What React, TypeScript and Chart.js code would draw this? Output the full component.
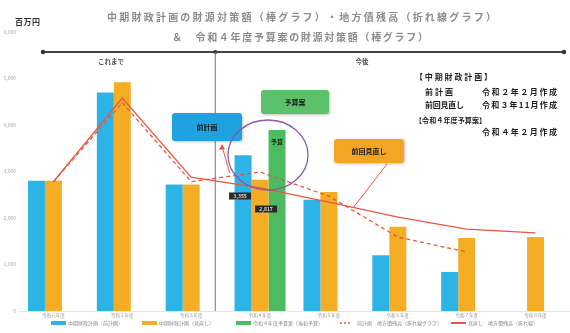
import React, { useEffect, useRef } from "react";
import { Chart, registerables } from "chart.js";
Chart.register(...registerables);

const FONT = '"Noto Sans CJK JP", "Noto Sans", sans-serif';

const categories = ["令和元年度", "令和２年度", "令和３年度", "令和４年度", "令和５年度", "令和６年度", "令和７年度", "令和８年度"];
const prevPlanBars = [2800, 4700, 2720, 3350, 2390, 1200, 840, null];
const reviewBars = [2800, 4920, 2720, 2820, 2560, 1810, 1570, 1590];
const budgetBars = [null, null, null, 3890, null, null, null, null];
const prevPlanLine = [2780, 4480, 2780, 2990, 2470, 1590, 1270, null];
const reviewLine = [2780, 4580, 2880, 2650, 2340, 2020, 1760, 1680];
const yTickValues = [0, 1000, 2000, 3000, 4000, 5000, 6000];
const yTickLabels = ["0", "1,000", "2,000", "3,000", "4,000", "5,000", "6,000"];
const legendLabels = [
  "中期財政計画（前計画）",
  "中期財政計画（見直し）",
  "令和４年度予算案（当初予算）",
  "前計画　地方債残高（折れ線グラフ）",
  "見直し　地方債残高（折れ線）",
];
const titleLine1 = "中期財政計画の財源対策額（棒グラフ）・地方債残高（折れ線グラフ）";
const titleLine2 = "＆　令和４年度予算案の財源対策額（棒グラフ）";
const unitLabel = "百万円";
const periodLabels = ["これまで", "今後"];
const noteLines = ["【中期財政計画】", "前計画", "令和２年２月作成", "前回見直し", "令和３年11月作成", "【令和４年度予算案】", "令和４年２月作成"];
const calloutLabels = ["前計画", "予算案", "前回見直し"];
const valueTags = ["3,355", "2,817"];

const BLUE = "#2db4e6";
const ORANGE = "#f5ad26";
const GREEN = "#4dbb5f";
const RED = "#e9573f";
const PURPLE = "#8a5aa8";

function spread(ctx: CanvasRenderingContext2D, text: string, x0: number, x1: number, y: number) {
  const chars = Array.from(text);
  const widths = chars.map((c) => ctx.measureText(c).width);
  const total = widths.reduce((a, b) => a + b, 0);
  const gap = chars.length > 1 ? (x1 - x0 - total) / (chars.length - 1) : 0;
  let x = x0;
  ctx.textAlign = "left";
  chars.forEach((c, i) => {
    ctx.fillText(c, x, y);
    x += widths[i] + gap;
  });
}

function roundRect(ctx: CanvasRenderingContext2D, x: number, y: number, w: number, h: number, r: number) {
  ctx.beginPath();
  ctx.moveTo(x + r, y);
  ctx.lineTo(x + w - r, y);
  ctx.quadraticCurveTo(x + w, y, x + w, y + r);
  ctx.lineTo(x + w, y + h - r);
  ctx.quadraticCurveTo(x + w, y + h, x + w - r, y + h);
  ctx.lineTo(x + r, y + h);
  ctx.quadraticCurveTo(x, y + h, x, y + h - r);
  ctx.lineTo(x, y + r);
  ctx.quadraticCurveTo(x, y, x + r, y);
  ctx.closePath();
}

const deco = {
  id: "deco",
  afterDraw(chart: any) {
    const ctx: CanvasRenderingContext2D = chart.ctx;
    const xs = chart.scales.x;
    const area = chart.chartArea;
    ctx.save();
    ctx.textBaseline = "middle";

    // titles
    ctx.fillStyle = "#8c8c8c";
    ctx.font = `bold 10px ${FONT}`;
    spread(ctx, titleLine1, 107, 496, 17);
    spread(ctx, titleLine2, 172, 428, 37);

    // unit
    ctx.fillStyle = "#333";
    ctx.font = `bold 8px ${FONT}`;
    spread(ctx, unitLabel, 15, 40, 22);

    // period arrow line
    const divX = xs.getPixelForValue(2) + (xs.getPixelForValue(3) - xs.getPixelForValue(2)) * 0.35;
    ctx.strokeStyle = "#444";
    ctx.lineWidth = 2;
    ctx.beginPath();
    ctx.moveTo(43, 52);
    ctx.lineTo(564, 52);
    ctx.stroke();
    ctx.fillStyle = "#333";
    [43, 564].forEach((px) => {
      ctx.beginPath();
      ctx.arc(px, 52, 2.2, 0, Math.PI * 2);
      ctx.fill();
    });
    ctx.beginPath();
    ctx.arc(divX, 52, 2, 0, Math.PI * 2);
    ctx.fill();

    // divider
    ctx.strokeStyle = "#6f6fb0";
    ctx.lineWidth = 1;
    ctx.beginPath();
    ctx.moveTo(divX, 52);
    ctx.lineTo(divX, area.bottom);
    ctx.stroke();

    ctx.fillStyle = "#555";
    ctx.font = `bold 6.5px ${FONT}`;
    ctx.textAlign = "center";
    ctx.fillText(periodLabels[0], 111, 62);
    ctx.fillText(periodLabels[1], 362, 62);

    // notes
    ctx.fillStyle = "#1e1e1e";
    ctx.font = `bold 8px ${FONT}`;
    spread(ctx, noteLines[0], 415, 492, 77);
    spread(ctx, noteLines[1], 425, 453, 92);
    spread(ctx, noteLines[2], 482, 557, 92);
    spread(ctx, noteLines[3], 425, 464, 105);
    spread(ctx, noteLines[4], 482, 557, 105);
    ctx.font = `bold 7px ${FONT}`;
    spread(ctx, noteLines[5], 415, 486, 120);
    ctx.font = `bold 8px ${FONT}`;
    spread(ctx, noteLines[6], 482, 557, 132);

    // callout connectors
    const dashMeta = chart.getDatasetMeta(3).data;
    const solidMeta = chart.getDatasetMeta(4).data;
    ctx.strokeStyle = RED;
    ctx.lineWidth = 1;
    const tx1 = (dashMeta[2].x + dashMeta[3].x) / 2 + 4;
    const ty1 = (dashMeta[2].y + dashMeta[3].y) / 2 - 4;
    ctx.beginPath();
    ctx.moveTo(222, 146);
    ctx.lineTo(tx1, ty1);
    ctx.stroke();
    ctx.fillStyle = RED;
    ctx.beginPath();
    ctx.moveTo(222, 144);
    ctx.lineTo(219, 150);
    ctx.lineTo(225, 149);
    ctx.closePath();
    ctx.fill();
    const tx2 = (solidMeta[4].x + solidMeta[5].x) / 2 - 10;
    const ty2 = (solidMeta[4].y + solidMeta[5].y) / 2 - 2;
    ctx.beginPath();
    ctx.moveTo(387, 164);
    ctx.lineTo(tx2, ty2);
    ctx.stroke();

    // callout boxes
    const boxes = [
      { x: 172, y: 113, w: 70, h: 28, c: "#1ea3e0", t: calloutLabels[0] },
      { x: 261, y: 90, w: 68, h: 24, c: "#5cc26a", t: calloutLabels[1] },
      { x: 334, y: 139, w: 70, h: 24, c: "#f2a623", t: calloutLabels[2] },
    ];
    boxes.forEach((b) => {
      ctx.save();
      ctx.shadowColor = "rgba(0,0,0,0.25)";
      ctx.shadowBlur = 3;
      ctx.shadowOffsetX = 1;
      ctx.shadowOffsetY = 1;
      ctx.fillStyle = b.c;
      roundRect(ctx, b.x, b.y, b.w, b.h, 3);
      ctx.fill();
      ctx.restore();
      ctx.fillStyle = "#1a1a1a";
      ctx.font = `bold 7px ${FONT}`;
      ctx.textAlign = "center";
      ctx.fillText(b.t, b.x + b.w / 2, b.y + b.h / 2);
    });

    // ellipse
    ctx.strokeStyle = PURPLE;
    ctx.lineWidth = 1.3;
    ctx.beginPath();
    ctx.ellipse(268, 155, 40, 35, 0, 0, Math.PI * 2);
    ctx.stroke();

    // text on green bar
    const gBar = chart.getDatasetMeta(2).data[3];
    ctx.fillStyle = "#1a1a1a";
    ctx.font = `bold 6px ${FONT}`;
    ctx.textAlign = "center";
    ctx.fillText("予算", gBar.x, gBar.y + 12);

    // value tags
    const bBar = chart.getDatasetMeta(0).data[3];
    const oBar = chart.getDatasetMeta(1).data[3];
    [[bBar.x - 3, 196, valueTags[0]], [oBar.x + 6, 209, valueTags[1]]].forEach(([x, y, t]: any) => {
      ctx.fillStyle = "#2a2a2a";
      ctx.fillRect(x - 11, y - 3.5, 22, 7);
      ctx.fillStyle = "#ddd";
      ctx.font = `bold 5px ${FONT}`;
      ctx.fillText(t, x, y);
    });

    // legend
    const ly = 323;
    const items = [
      { x: 51, c: BLUE, kind: "box" },
      { x: 142, c: ORANGE, kind: "box" },
      { x: 236, c: GREEN, kind: "box" },
      { x: 340, c: RED, kind: "dash" },
      { x: 451, c: RED, kind: "line" },
    ];
    ctx.font = `5px ${FONT}`;
    items.forEach((it, i) => {
      if (it.kind === "box") {
        ctx.fillStyle = it.c;
        ctx.fillRect(it.x, ly - 2, 15, 4);
      } else if (it.kind === "dash") {
        ctx.strokeStyle = it.c;
        ctx.lineWidth = 1.5;
        ctx.setLineDash([2, 2]);
        ctx.beginPath();
        ctx.moveTo(it.x, ly);
        ctx.lineTo(it.x + 12, ly);
        ctx.stroke();
        ctx.setLineDash([]);
      } else {
        ctx.strokeStyle = it.c;
        ctx.lineWidth = 2;
        ctx.beginPath();
        ctx.moveTo(it.x, ly);
        ctx.lineTo(it.x + 15, ly);
        ctx.stroke();
      }
      ctx.fillStyle = "#888";
      ctx.textAlign = "left";
      ctx.fillText(legendLabels[i], it.x + 17, ly);
    });

    ctx.restore();
  },
};

export default function App() {
  const ref = useRef<HTMLCanvasElement | null>(null);
  useEffect(() => {
    document.body.style.margin = "0";
    const canvas = ref.current;
    if (!canvas) return;
    const chart = new Chart(canvas, {
      type: "bar",
      data: {
        labels: categories,
        datasets: [
          { type: "bar", data: prevPlanBars, backgroundColor: BLUE, order: 2, categoryPercentage: 0.74, barPercentage: 1 },
          { type: "bar", data: reviewBars, backgroundColor: ORANGE, order: 2, categoryPercentage: 0.74, barPercentage: 1 },
          { type: "bar", data: budgetBars, backgroundColor: GREEN, order: 2, categoryPercentage: 0.74, barPercentage: 1 },
          { type: "line", data: prevPlanLine, borderColor: RED, borderWidth: 1.3, borderDash: [4, 3], pointRadius: 0, fill: false, order: 0, tension: 0 },
          { type: "line", data: reviewLine, borderColor: RED, borderWidth: 1.3, pointRadius: 0, fill: false, order: 1, tension: 0 },
        ] as any,
      },
      options: {
        responsive: false,
        animation: false,
        layout: { padding: { top: 32, bottom: 14, left: 0, right: 0 } },
        plugins: { legend: { display: false }, tooltip: { enabled: false } },
        scales: {
          x: {
            grid: { display: false, drawTicks: false, tickLength: 0 },
            border: { display: true, color: "#e4e4e4" },
            ticks: { font: { size: 4.5, family: FONT }, color: "#999", padding: 2, maxRotation: 0, autoSkip: false },
            afterFit: (s: any) => { s.height = 8; },
          },
          y: {
            min: 0,
            max: 6000,
            afterBuildTicks: (s: any) => { s.ticks = yTickValues.map((v) => ({ value: v })); },
            ticks: {
              font: { size: 5, family: FONT },
              color: "#aaa",
              padding: 3,
              callback: (v: any) => yTickLabels[yTickValues.indexOf(Number(v))] ?? "",
            },
            grid: { display: false, drawTicks: false, tickLength: 0 },
            border: { display: false },
            afterFit: (s: any) => { s.width = 19; },
          },
        },
      } as any,
      plugins: [deco],
    });
    return () => chart.destroy();
  }, []);
  return <canvas ref={ref} width={570} height={333} style={{ display: "block" }} />;
}
